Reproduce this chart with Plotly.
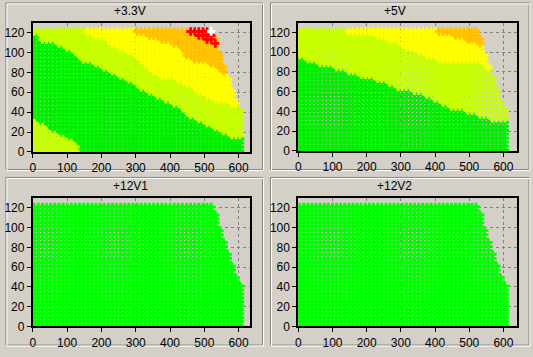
import numpy as np
import plotly.graph_objects as go

W, H = 533, 357

# ---- load grid (x = total load W, y = load %) ----
x_cols = [4, 16, 28, 40, 52, 64, 76, 88, 100, 112, 124, 136, 148, 160, 172, 184, 196, 208,
          220, 232, 244, 256, 268, 280, 292, 304, 316, 328, 340, 352, 364, 376, 388, 400,
          412, 424, 436, 448, 460, 472, 484, 496, 508, 520, 532, 544, 556, 568, 580, 592, 604]
y_rows = [1, 5, 9, 13, 17, 21, 25, 29, 33, 37, 41, 45, 49, 53, 57, 61, 65, 69, 73, 77, 81,
          85, 89, 93, 97, 101, 105, 109, 113, 117, 121]

# outer envelope of tested points (max x for a given y)
env_y = [0, 42, 46, 50, 58, 62, 70, 78, 84, 92, 100, 108, 116, 119, 122]
env_x = [606, 606, 598, 593, 585, 581, 572, 566, 557, 548, 543, 536, 532, 522, 522]

# ---- +3.3V zone boundaries ----
v33_green_x = [0, 16, 20, 57, 90, 119, 143, 190, 229, 276, 305, 348, 371, 410, 433, 457, 495, 524, 562, 581, 610]
v33_green_y = [118, 118, 113, 110, 106, 101, 93, 87, 81, 73, 67, 59, 54, 49, 44, 37, 30, 25, 19, 14, 14]
v33_low_x = [0, 29, 57, 80, 106, 123, 134, 140]
v33_low_y = [31, 26, 19, 16, 11, 6, 1, -5]
v33_yel_x = [140, 152, 200, 248, 295, 324, 352, 410, 448, 486, 533, 571, 610]
v33_yel_y = [125, 120, 115, 105, 99, 89, 79, 74, 69, 59, 52, 49, 49]
v33_org_x = [290, 300, 348, 390, 438, 448, 486, 524, 543, 552, 610]
v33_org_y = [125, 121, 116, 111, 103, 96, 91, 88, 85, 81, 81]
v33_red_row = [121, 117, 113, 109]
v33_red_min = [456, 480, 504, 528]
v33_red_max = [512, 524, 524, 536]
v33_white_x = [520]
v33_white_y = [121]

# ---- +5V zone boundaries ----
v5_green_x = [0, 34, 73, 112, 141, 190, 239, 259, 298, 347, 395, 444, 493, 541, 571, 610]
v5_green_y = [97, 92, 88, 84, 81, 76, 72, 69, 64, 60, 53, 45, 41, 36, 31, 31]
v5_yel_x = [130, 141, 200, 288, 327, 366, 405, 434, 541, 561, 610]
v5_yel_y = [125, 121, 120, 110, 103, 98, 93, 91, 90, 80, 78]
v5_org_x = [400, 410, 449, 488, 522, 610]
v5_org_y = [125, 121, 117, 113, 109, 109]

titles = ["+3.3V", "+5V", "+12V1", "+12V2"]
x_ticks = [0, 100, 200, 300, 400, 500, 600]
y_ticks = [0, 20, 40, 60, 80, 100, 120]

COL = {"green": "#00ff00", "ygreen": "#c8ff00", "yellow": "#ffff00",
       "orange": "#ffc000", "red": "#ff0000", "white": "#ffffff"}
GREEN_TOP = "#00f000"
ORDER = ["green", "ygreen", "yellow", "orange", "red", "white"]


def points():
    for y in y_rows:
        lim = np.interp(y, env_y, env_x)
        for x in x_cols:
            if x <= lim + 0.5:
                yield x, y


def classify(panel, x, y):
    if panel == 0:
        c = "green"
        if y > np.interp(x, v33_green_x, v33_green_y):
            c = "ygreen"
        if y <= np.interp(x, v33_low_x, v33_low_y):
            c = "ygreen"
        if y >= np.interp(x, v33_yel_x, v33_yel_y):
            c = "yellow"
        if y >= np.interp(x, v33_org_x, v33_org_y):
            c = "orange"
        for r, a, b in zip(v33_red_row, v33_red_min, v33_red_max):
            if y == r and a <= x <= b:
                c = "red"
        for wx, wy in zip(v33_white_x, v33_white_y):
            if x == wx and y == wy:
                c = "white"
        return c
    if panel == 1:
        c = "green"
        if y > np.interp(x, v5_green_x, v5_green_y):
            c = "ygreen"
        if y >= np.interp(x, v5_yel_x, v5_yel_y):
            c = "yellow"
        if y >= np.interp(x, v5_org_x, v5_org_y):
            c = "orange"
        return c
    return "green"


# plot areas in pixels: (left, right, top, bottom)
plot_px = [(30, 248, 23, 155), (297, 517, 23, 154), (30, 248, 202, 333), (297, 517, 202, 333)]
x_max = [632, 640, 632, 640]
frames_px = [(3, 3, 262, 174), (269, 3, 530, 174), (3, 181, 262, 353), (269, 181, 530, 353)]
title_px = [(128, 11), (394, 11), (128, 190), (394, 190)]

fig = go.Figure()
layout = dict(width=W, height=H, autosize=False,
              margin=dict(l=0, r=0, t=0, b=0, pad=0),
              paper_bgcolor="#d4d0c8", plot_bgcolor="#d4d0c8",
              showlegend=False, shapes=[], annotations=[])

for i in range(4):
    pts = list(points())
    groups = {k: ([], []) for k in ORDER}
    for x, y in pts:
        c = classify(i, x, y)
        groups[c][0].append(x)
        groups[c][1].append(y)
    sfx = "" if i == 0 else str(i + 1)
    for k in ORDER:
        xs, ys = groups[k]
        if not xs:
            continue
        color = COL[k]
        if k == "green" and i < 2:
            color = GREEN_TOP
        fig.add_trace(go.Scatter(
            x=xs, y=ys, mode="markers", xaxis="x" + sfx, yaxis="y" + sfx,
            marker=dict(symbol="cross", size=7, color=color, line=dict(width=0)),
            hoverinfo="skip"))
    l, r, t, b = plot_px[i]
    common = dict(showgrid=True, gridcolor="#808080", griddash="3px,3px", gridwidth=1,
                  zeroline=False, showline=True, linecolor="#000000", linewidth=2,
                  mirror=True, ticks="outside", ticklen=4, tickcolor="#000000",
                  tickfont=dict(family="Liberation Sans, Arial", size=12, color="#000000"),
                  fixedrange=True)
    layout["xaxis" + sfx] = dict(domain=[l / W, r / W], range=[0, x_max[i]],
                                 tickvals=x_ticks, anchor="y" + sfx, **common)
    layout["yaxis" + sfx] = dict(domain=[1 - b / H, 1 - t / H], range=[0, 130],
                                 tickvals=y_ticks, anchor="x" + sfx, **common)
    fx0, fy0, fx1, fy1 = frames_px[i]
    layout["shapes"].append(dict(type="rect", xref="paper", yref="paper",
                                 x0=fx0 / W, x1=(fx1 - 1) / W, y0=1 - fy0 / H, y1=1 - (fy1 - 1) / H,
                                 line=dict(color="#808080", width=1), layer="below"))
    layout["shapes"].append(dict(type="rect", xref="paper", yref="paper",
                                 x0=(fx0 + 1) / W, x1=fx1 / W, y0=1 - (fy0 + 1) / H, y1=1 - fy1 / H,
                                 line=dict(color="#ffffff", width=1), layer="below"))
    tx, ty = title_px[i]
    layout["annotations"].append(dict(text=titles[i], xref="paper", yref="paper",
                                      x=tx / W, y=1 - ty / H, showarrow=False,
                                      xanchor="center", yanchor="middle",
                                      font=dict(family="Liberation Sans, Arial", size=12, color="#000000")))

fig.update_layout(**layout)
fig.write_html("out.html", config={"displayModeBar": False, "staticPlot": True},
               post_script="document.body.style.margin='0';document.body.style.overflow='hidden';"
                           "document.body.style.background='#d4d0c8';")
